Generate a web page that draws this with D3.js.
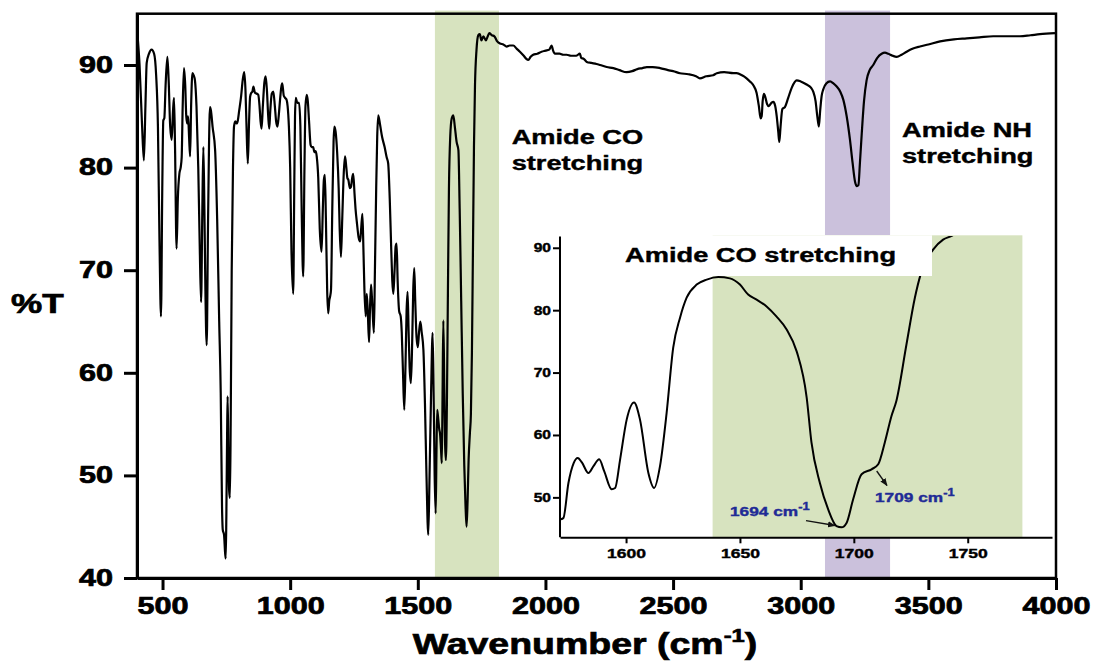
<!DOCTYPE html>
<html>
<head>
<meta charset="utf-8">
<script src="https://cdn.jsdelivr.net/npm/d3@7"></script>
<style>
  body { margin: 0; background: #fff; }
  svg { display: block; font-family: "Liberation Sans", Arial, sans-serif; font-weight: bold; }
  .heavy { stroke: #000; stroke-width: 0.7px; }
  .heavy-s { stroke: #000; stroke-width: 0.4px; }
</style>
</head>
<body>
<div class="ftir"></div>
<script>
// FTIR spectrum (wavenumber, %T)
var mainSpectrum = [
  [401,93.2],[410,90],[420,84],[427,80.7],[433,86],[438,90.2],[447,91.1],[457,91.5],[467,91.1],[475,89],
  [482,84],[488,73],[494,65.5],[499,78],[503,84.6],[507,84.8],[512,88],[519,90.8],[524,88.5],[530,84],
  [536,82.7],[541,85.5],[545,86.8],[549,82],[555,72.1],[560,77],[566,79.4],[571,80],[575,81],[579,86],
  [584,89.7],[589,88],[593,85],[597,84.3],[600,85],[604,83],[608,81.1],[612,86],[617,89.2],[622,89],
  [627,88.5],[633,86],[640,80],[646,72],[651,66.9],[656,76],[660,82],[664,76],[668,68],[673,62.7],
  [678,74],[682,82],[686,85.9],[690,85.5],[696,84],[706,81.7],[714,75],[722,65],[728,58],[733,47],
  [736,44.7],[741,44.2],[745,42.5],[747.5,41.9],[750,46],[753,54],[755,57.7],[758,52],[761,48.5],[764,47.8],
  [767,55],[771,70],[776,80],[780,84],[785,84.5],[790,84.3],[795,84.6],[800,85.5],[808,87],[814,88.5],
  [820,89.3],[825,87.5],[829,84],[834,80.4],[839,84.5],[843,86.9],[848,87.3],[852,87.4],[856,87.9],[862,87.3],
  [870,87.2],[875,87.1],[880,86],[884,84.5],[888,83.8],[893,86],[899,88.3],[904,88.9],[909,87.5],[914,85],
  [918,83.8],[922,85.5],[928,87.2],[934,87.4],[940,86],[945,84.5],[950,84],[955,85],[960,86.5],[965,87.8],
  [969,88.2],[975,87],[980,86.8],[986,86.6],[990,86],[995,84],[1000,80],[1005,72],[1012,67.7],[1016,78],
  [1019,85],[1022,86.8],[1028,86.3],[1035,86.3],[1040,84],[1045,76],[1051,69.4],[1056,80],[1060,86],[1065,87.1],
  [1069,86.5],[1074,84.5],[1080,82.2],[1084,82],[1090,82],[1095,81.5],[1100,81.6],[1104,81.1],[1110,79],[1116,74],
  [1123,71.8],[1128,76],[1132,78.8],[1136,79.3],[1140,75],[1145,68],[1149,65.8],[1153,67],[1157,67.5],[1160,68.1],
  [1165,76],[1170,82.5],[1173,84],[1178,83.5],[1184,81.5],[1190,78],[1194,74],[1199,71.3],[1204,75],[1210,79.5],
  [1215,81.1],[1220,80],[1224,79],[1228,78.8],[1234,78],[1238,78.1],[1243,79],[1247,79.4],[1252,77.5],[1256,76],
  [1262,74.5],[1268,73.2],[1274,72.8],[1278,74],[1283,75.5],[1287,72],[1291,68],[1296,65.5],[1300,67.7],[1304,66],
  [1309,63],[1313,66.5],[1317,68.6],[1322,66.5],[1328,63.9],[1332,70],[1337,78],[1341,83],[1345,85.1],[1352,84.2],
  [1360,83],[1370,82],[1378,81],[1384,80.4],[1390,77],[1396,72],[1400,69],[1404,67.7],[1409,70],[1413,72.3],
  [1417,72.6],[1421,69],[1427,66],[1433,65.5],[1437,64],[1442,60],[1447,56.4],[1452,61],[1456,66],[1460,67.9],
  [1464,64],[1468,60.5],[1473,59],[1478,63],[1482,68],[1486,70.2],[1490,67],[1495,63.5],[1500,62.5],[1505,64],
  [1510,65],[1515,64],[1522,62.2],[1528,57],[1534,50],[1541,44.2],[1546,50],[1552,58],[1558,63.9],[1562,58],
  [1566,50],[1570,46.3],[1573,52],[1576,56.4],[1580,55.5],[1584,54.5],[1587,54.1],[1591,52.5],[1594,51.2],[1597,58],
  [1600,65.1],[1604,58],[1607,53],[1610,51.5],[1614,57],[1618,68],[1622,78],[1627,83],[1633,84.8],[1639,85.1],
  [1645,84],[1652,82.5],[1659,81.7],[1664,76],[1670,67],[1676,58],[1682,51],[1687,47],[1691,45],[1695,47.5],
  [1699,51.5],[1704,54.1],[1708,56],[1712,62],[1716,72],[1720,82],[1724,88],[1730,91.5],[1737,92.9],[1743,93],
  [1749,92.4],[1757,92.8],[1767,92.4],[1774,92.8],[1780,93.1],[1790,92.9],[1800,92.8],[1811,92.3],[1822,92.1],[1835,92],
  [1848,91.8],[1860,91.9],[1874,91.9],[1887,91.6],[1900,91.3],[1915,90.9],[1925,90.6],[1933,90.5],[1942,90.8],[1952,91],
  [1968,91.1],[1985,91.3],[2000,91.4],[2015,91.5],[2024,91.9],[2030,91.4],[2037,91.1],[2055,91.1],[2070,91],[2083,91],
  [2100,90.9],[2120,90.9],[2135,91.1],[2140,90.7],[2150,90.6],[2162,90.3],[2180,90.2],[2200,90.1],[2214,90],[2240,89.8],
  [2266,89.7],[2290,89.5],[2318,89.3],[2340,89.4],[2360,89.6],[2380,89.7],[2397,89.8],[2420,89.8],[2449,89.7],[2480,89.5],
  [2500,89.4],[2527,89.2],[2560,89.1],[2590,88.9],[2605,88.7],[2630,88.9],[2657,89],[2671,89.2],[2700,89.3],[2736,89.2],
  [2749,89.2],[2770,89],[2788,88.7],[2801,88.4],[2815,88],[2827,87.3],[2836,86],[2843,84.8],[2847,85],[2851,86.5],
  [2856,87.2],[2862,86.8],[2868,86.2],[2875,86],[2885,86.3],[2893,86.4],[2900,86],[2906,85],[2912,83.5],[2916,82.5],
  [2921,84],[2928,85.7],[2938,85.9],[2951,86.8],[2965,87.8],[2984,88.5],[3000,88.4],[3023,88.1],[3040,87.8],[3049,87.4],
  [3058,86.5],[3065,85],[3071,84],[3076,85.5],[3082,87],[3088,87.6],[3100,88.2],[3115,88.4],[3128,88.2],[3141,87.9],
  [3155,87.4],[3167,86.6],[3180,85],[3193,82.7],[3203,80.5],[3213,78.6],[3220,78.2],[3226,78.3],[3232,80.5],[3239,83.3],
  [3248,86.5],[3258,88.5],[3270,89.5],[3284,90],[3300,90.7],[3317,91.1],[3330,91.2],[3343,91.1],[3360,90.9],[3376,90.8],
  [3395,91],[3415,91.3],[3440,91.6],[3467,91.8],[3500,92],[3546,92.3],[3600,92.5],[3650,92.6],[3700,92.7],[3754,92.8],
  [3800,92.8],[3859,92.8],[3900,92.9],[3937,93],[3996,93.1]
];

// inset: close-up of the amide CO region
var insetSpectrum = [
  [1571.4,46.5],[1572.5,46.7],[1574.7,52.3],[1577,55.5],[1578.8,56.3],[1580.6,55.6],[1583.5,53.9],[1585.7,55],
  [1588.2,56.1],[1590.4,54.2],[1593.7,51.3],[1595.2,51.5],[1597.4,56.1],[1600.3,62.5],[1603.5,65.2],[1606.1,62.5],
  [1609.8,53.9],[1612.3,51.5],[1614.9,55],[1617.8,63.5],[1620.7,74],[1623.7,78.8],[1626.6,82],[1631,84.1],
  [1635.4,84.9],[1640.5,85.3],[1645.6,85.1],[1650,84.1],[1653.6,82.5],[1657.3,81.7],[1661.7,80.6],[1666,79],
  [1670.5,76.9],[1674.9,73.4],[1679.3,66],[1681.4,58.8],[1685.1,52.3],[1688.7,48.1],[1692.4,45.4],[1694.6,45.2],
  [1696.8,45.9],[1699.7,49.7],[1703.4,53.7],[1707.8,54.5],[1710.7,55.3],[1713.6,58.8],[1716.5,63],[1718.7,65.5],
  [1723.1,74.5],[1726.8,82],[1729.3,85.7],[1734.8,89.7],[1739.2,91.3],[1742.9,91.9],[1746,92.6]
];

var xTicks = [500, 1000, 1500, 2000, 2500, 3000, 3500, 4000];
var yTicks = [40, 50, 60, 70, 80, 90];
var insetXTicks = [1600, 1650, 1700, 1750];
var insetYTicks = [50, 60, 70, 80, 90];

var bandCO = [1567, 1818];   // amide CO stretching
var bandNH = [3095, 3350];   // amide NH stretching
var insetBand = [1638, 1774];

var green = "#d7e3bf", purple = "#cbc1dc", blue = "#1f2b96";

var W = 1093, H = 661;
var svg = d3.select(".ftir").append("svg").attr("width", W).attr("height", H);

// the picture is stretched sideways, so text is too
function stretch(sel, sx) {
  sel.each(function() {
    var t = d3.select(this);
    var x = +t.attr("x") || 0, y = +t.attr("y") || 0;
    t.attr("x", 0).attr("y", 0)
      .attr("transform", "translate(" + x + "," + y + ") scale(" + sx + ",1)");
  });
}

// main scales
var x = d3.scaleLinear().domain([400, 4000]).range([137, 1056]);
var y = d3.scaleLinear().domain([40, 95]).range([578, 13.7]);

var defs = svg.append("defs");
defs.append("clipPath").attr("id", "insetClip").append("rect")
  .attr("x", 560).attr("y", 236).attr("width", 495).attr("height", 302);
defs.append("marker").attr("id", "arr")
  .attr("viewBox", "0 0 10 10").attr("refX", 9).attr("refY", 5)
  .attr("markerWidth", 6).attr("markerHeight", 6).attr("orient", "auto")
  .append("path").attr("d", "M0,1L10,5L0,9z").attr("fill", "#111");

// highlight bands
[[bandCO, green], [bandNH, purple]].forEach(function(b) {
  svg.append("rect")
    .attr("x", x(b[0][0])).attr("width", x(b[0][1]) - x(b[0][0]))
    .attr("y", y(95.3)).attr("height", y(40.1) - y(95.3))
    .attr("fill", b[1]);
});

var line = d3.line()
  .x(function(d) { return x(d[0]); })
  .y(function(d) { return y(d[1]); })
  .curve(d3.curveMonotoneX);

svg.append("path").datum(mainSpectrum)
  .attr("d", line).attr("fill", "none")
  .attr("stroke", "#000").attr("stroke-width", 2.2).attr("stroke-linejoin", "round");

// frame (top/right) + axes
svg.append("rect").attr("x", x(400)).attr("y", y(95))
  .attr("width", x(4000) - x(400)).attr("height", y(40) - y(95))
  .attr("fill", "none").attr("stroke", "#000").attr("stroke-width", 2.5);

var gx = svg.append("g").attr("transform", "translate(0," + y(40) + ")")
  .call(d3.axisBottom(x).tickValues(xTicks).tickFormat(d3.format("d"))
    .tickSize(12).tickPadding(8).tickSizeOuter(0));
var gy = svg.append("g").attr("transform", "translate(" + x(400) + ",0)")
  .call(d3.axisLeft(y).tickValues(yTicks).tickFormat(d3.format("d"))
    .tickSize(13).tickPadding(11).tickSizeOuter(0));
[gx, gy].forEach(function(g) {
  g.select(".domain").attr("stroke-width", 3);
  g.selectAll(".tick line").attr("stroke-width", 3);
  g.selectAll("text").attr("font-size", 23).attr("font-weight", "bold")
    .attr("font-family", "Liberation Sans, Arial, sans-serif").attr("fill", "#000")
    .attr("class", "heavy");
  g.attr("font-size", null).attr("font-family", null);
});
stretch(gx.selectAll(".tick text"), 1.33);
stretch(gy.selectAll(".tick text"), 1.33);

// axis titles
stretch(svg.append("text").attr("x", 11).attr("y", 313).attr("class", "heavy")
  .attr("font-size", 27).text("%T"), 1.3);

var title = svg.append("text").attr("x", 585).attr("y", 654).attr("class", "heavy")
  .attr("font-size", 30).attr("text-anchor", "middle");
title.append("tspan").text("Wavenumber (cm");
title.append("tspan").attr("font-size", 19).attr("dy", -12).text("-1");
title.append("tspan").attr("dy", 12).text(")");
stretch(title, 1.25);

// band annotations
function label(lines, px, py, gap) {
  lines.forEach(function(s, i) {
    stretch(svg.append("text").attr("x", px).attr("y", py + i * gap)
      .attr("class", "heavy-s").attr("font-size", 20).text(s), 1.36);
  });
}
label(["Amide CO", "stretching"], 511.7, 144, 26);
label(["Amide NH", "stretching"], 902, 136.7, 26.6);

// ---------- inset ----------
var xi = d3.scaleLinear().domain([1571, 1787]).range([560, 1052]);
var yi = d3.scaleLinear().domain([43.6, 92]).range([537.3, 235.3]);

svg.append("rect").attr("x", 530).attr("y", yi(92))
  .attr("width", 1053 - 530).attr("height", yi(43.6) - yi(92)).attr("fill", "#fff");
svg.append("rect")
  .attr("x", xi(insetBand[0])).attr("width", xi(insetBand[1]) - xi(insetBand[0]))
  .attr("y", yi(92)).attr("height", yi(43.6) - yi(92)).attr("fill", green);

var iline = d3.line()
  .x(function(d) { return xi(d[0]); })
  .y(function(d) { return yi(d[1]); })
  .curve(d3.curveMonotoneX);
svg.append("path").datum(insetSpectrum)
  .attr("clip-path", "url(#insetClip)")
  .attr("d", iline).attr("fill", "none")
  .attr("stroke", "#000").attr("stroke-width", 2);

// title box covers the curve
svg.append("rect").attr("x", 612).attr("y", yi(92))
  .attr("width", 932 - 612).attr("height", 276 - yi(92)).attr("fill", "#fff");
stretch(svg.append("text").attr("x", 625).attr("y", 262.3).attr("class", "heavy-s")
  .attr("font-size", 20.5).text("Amide CO stretching"), 1.33);

var gxi = svg.append("g").attr("transform", "translate(0," + yi(43.6) + ")")
  .call(d3.axisBottom(xi).tickValues(insetXTicks).tickFormat(d3.format("d"))
    .tickSize(6).tickPadding(5).tickSizeOuter(0));
var gyi = svg.append("g").attr("transform", "translate(" + xi(1571) + ",0)")
  .call(d3.axisLeft(yi).tickValues(insetYTicks).tickFormat(d3.format("d"))
    .tickSize(7).tickPadding(2).tickSizeOuter(0));
gyi.select(".domain").attr("d", "M0," + yi(43.6) + "V" + (yi(91.8)));
[gxi, gyi].forEach(function(g) {
  g.select(".domain").attr("stroke-width", 2);
  g.selectAll(".tick line").attr("stroke-width", 2);
  g.selectAll("text").attr("font-weight", "bold")
    .attr("font-family", "Liberation Sans, Arial, sans-serif").attr("fill", "#000")
    .attr("class", "heavy-s");
  g.attr("font-size", null).attr("font-family", null);
});
gxi.selectAll("text").attr("font-size", 13.5);
gyi.selectAll("text").attr("font-size", 12);
stretch(gxi.selectAll(".tick text"), 1.3);
stretch(gyi.selectAll(".tick text"), 1.3);

// peak labels
var peaks = [
  { name: "1694", px: 730, py: 515.7, from: [806, 520.7], to: [835, 525.5] },
  { name: "1709", px: 875, py: 501.7, from: [876.7, 471], to: [887, 485.5] }
];
peaks.forEach(function(p) {
  svg.append("line")
    .attr("x1", p.from[0]).attr("y1", p.from[1]).attr("x2", p.to[0]).attr("y2", p.to[1])
    .attr("stroke", "#111").attr("stroke-width", 1.3).attr("marker-end", "url(#arr)");
  var t = svg.append("text").attr("x", p.px).attr("y", p.py)
    .attr("font-size", 13.5).attr("fill", blue)
    .attr("stroke", blue).attr("stroke-width", 0.4);
  t.append("tspan").text(p.name + " cm");
  t.append("tspan").attr("font-size", 10).attr("dy", -6).text("-1");
  stretch(t, 1.28);
});
</script>
</body>
</html>
